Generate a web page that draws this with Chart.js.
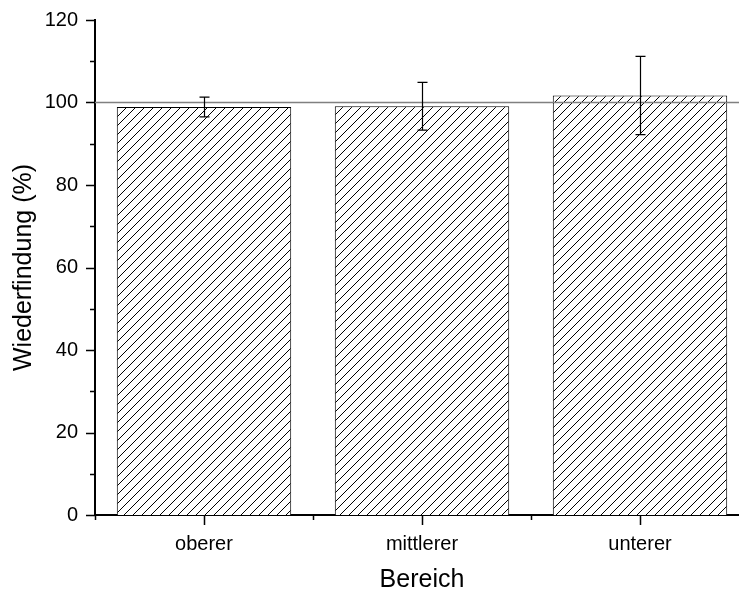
<!DOCTYPE html>
<html>
<head>
<meta charset="utf-8">
<script src="https://cdn.jsdelivr.net/npm/chart.js@4/dist/chart.umd.min.js"></script>
<style>
  html, body { margin: 0; padding: 0; background: #fff; overflow: hidden; }
</style>
</head>
<body>
<canvas id="myChart" width="750" height="595"></canvas>
<script>
const bereiche = ['oberer', 'mittlerer', 'unterer'];
const wiederfindung = [98.9, 99.1, 101.7];
const fehler = [2.4, 5.8, 9.5];
const sollwert = 100;
const yTicks = [0, 20, 40, 60, 80, 100, 120];

const font = "'Liberation Sans', Arial, sans-serif";

// diagonal hatch fill for the bars
function hatch() {
	const c = document.createElement('canvas');
	c.width = 9; c.height = 9;
	const g = c.getContext('2d');
	g.fillStyle = '#fff';
	g.fillRect(0, 0, 9, 9);
	g.strokeStyle = '#000';
	g.lineWidth = 1;
	g.beginPath();
	g.moveTo(-1, 10); g.lineTo(10, -1);
	g.moveTo(-1, 1); g.lineTo(1, -1);
	g.moveTo(8, 10); g.lineTo(10, 8);
	g.stroke();
	return g.createPattern(c, 'repeat');
}

// axis ticks, 100 % line and error bars
const extras = {
	id: 'extras',
	afterDatasetsDraw(chart) {
		const {ctx, chartArea, scales: {x, y}} = chart;
		ctx.save();
		ctx.strokeStyle = '#000';
		ctx.lineWidth = 1.5;
		ctx.beginPath();
		for (let v = 0; v <= 120; v += 10) {
			const py = Math.round(y.getPixelForValue(v)) + 0.5;
			const len = v % 20 === 0 ? 9 : 5;
			ctx.moveTo(chartArea.left - len, py);
			ctx.lineTo(chartArea.left, py);
		}
		bereiche.forEach((b, i) => {
			const px = Math.round(x.getPixelForValue(i)) + 0.5;
			ctx.moveTo(px, chartArea.bottom);
			ctx.lineTo(px, chartArea.bottom + 10);
		});
		for (let i = -0.5; i < bereiche.length; i++) {
			const px = Math.round(x.getPixelForValue(i)) + 0.5;
			ctx.moveTo(px, chartArea.bottom);
			ctx.lineTo(px, chartArea.bottom + 5);
		}
		ctx.stroke();

		// reference line
		const py100 = y.getPixelForValue(sollwert);
		ctx.strokeStyle = '#808080';
		ctx.lineWidth = 1.6;
		ctx.beginPath();
		ctx.moveTo(chartArea.left, py100);
		ctx.lineTo(chartArea.right, py100);
		ctx.stroke();

		// error bars
		ctx.strokeStyle = '#000';
		ctx.lineWidth = 1.2;
		const meta = chart.getDatasetMeta(0);
		meta.data.forEach((bar, i) => {
			const px = Math.round(bar.x) + 0.5;
			const top = y.getPixelForValue(wiederfindung[i] + fehler[i]);
			const bot = y.getPixelForValue(wiederfindung[i] - fehler[i]);
			ctx.beginPath();
			ctx.moveTo(px, top); ctx.lineTo(px, bot);
			ctx.moveTo(px - 5, top); ctx.lineTo(px + 5, top);
			ctx.moveTo(px - 5, bot); ctx.lineTo(px + 5, bot);
			ctx.stroke();
		});
		ctx.restore();
	}
};

let ctx = document.getElementById('myChart');

let chart = new Chart(ctx, {
	type: 'bar',
	data: {
		labels: bereiche,
		datasets: [{
			data: wiederfindung,
			backgroundColor: hatch(),
			borderColor: '#000',
			borderWidth: 1,
			barPercentage: 0.8,
			categoryPercentage: 1
		}]
	},
	options: {
		responsive: false,
		animation: false,
		layout: { padding: { top: 20, right: 1, left: 0, bottom: 0 } },
		plugins: {
			legend: { display: false },
			tooltip: { enabled: false }
		},
		scales: {
			x: {
				grid: { display: false, drawTicks: false },
				border: { display: true, color: '#000', width: 2 },
				ticks: { color: '#000', font: { family: font, size: 20 }, padding: 17 },
				title: {
					display: true, text: 'Bereich', color: '#000',
					font: { family: font, size: 25 }, padding: { top: 0, bottom: 0 }
				},
				afterFit: s => { s.height = 80; }
			},
			y: {
				min: 0,
				max: 120,
				afterBuildTicks: s => { s.ticks = yTicks.map(v => ({ value: v })); },
				grid: { display: false, drawTicks: false },
				border: { display: true, color: '#000', width: 2 },
				ticks: { color: '#000', font: { family: font, size: 20 }, padding: 17 },
				title: {
					display: true, text: 'Wiederfindung (%)', color: '#000',
					font: { family: font, size: 25 }, padding: { top: 9, bottom: 0 }
				},
				afterFit: s => {
					s.width = 95;
					s.paddingTop = 0;
					s.paddingBottom = 0;
				}
			}
		}
	},
	plugins: [extras]
});
</script>
</body>
</html>
